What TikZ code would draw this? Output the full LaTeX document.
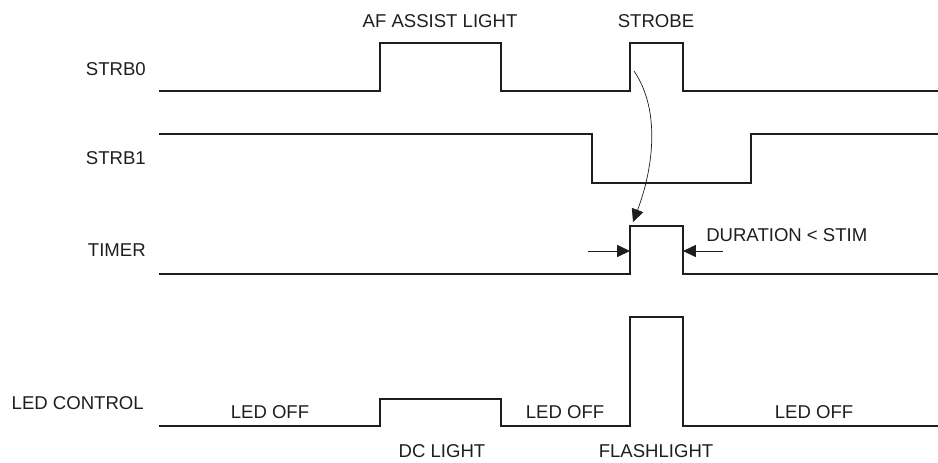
\documentclass[tikz,border=0pt]{standalone}
\usepackage{fontspec}
\setmainfont{Liberation Sans}
\usepackage{tikz}
\usetikzlibrary{arrows.meta, positioning, calc}
\definecolor{mydark}{RGB}{30,30,30}
\tikzset{
  signal/.style={line width=1.4pt, color=mydark, line join=miter},
  siglabel/.style={font=\fontsize{13.2}{15}\selectfont, inner sep=0pt, text=mydark},
  arrow/.style={-{Triangle[length=0.32cm, width=0.3cm]}, line width=0.6pt, color=mydark},
  curvearrow/.style={-{Triangle[length=0.32cm, width=0.3cm]}, line width=0.5pt, color=mydark}
}

\begin{document}
\begin{tikzpicture}[x=0.025cm, y=-0.025cm]
  \useasboundingbox (0,0) rectangle (938,462);

  % Signal names
  \node[siglabel, anchor=east] (nstrb0) at (146,69) {STRB0};
  \node[siglabel, anchor=east] (nstrb1) at (146,158) {STRB1};
  \node[siglabel, anchor=east] (ntimer) at (146,250) {TIMER};
  \node[siglabel, anchor=east] (nled) at (144,403) {LED CONTROL};

  % Waveforms
  \draw[signal] (159,91) -- (380,91) -- (380,43) -- (501,43) -- (501,91)
    -- (630,91) -- (630,43) -- (683,43) -- (683,91) -- (938,91);
  \draw[signal] (159,134) -- (592,134) -- (592,183) -- (751,183) -- (751,134) -- (938,134);
  \draw[signal] (159,274) -- (630,274) -- (630,226) -- (683,226) -- (683,274) -- (938,274);
  \draw[signal] (159,426) -- (380,426) -- (380,399) -- (501,399) -- (501,426)
    -- (630,426) -- (630,317) -- (683,317) -- (683,426) -- (938,426);

  % Pulse labels
  \node[siglabel] (naf) at (440,21) {AF ASSIST LIGHT};
  \node[siglabel] (nstrobe) at (656,21) {STROBE};
  \node[siglabel, anchor=west] (ndur) at (706,235) {DURATION < STIM};
  \node[siglabel] (noff1) at (270,412) {LED OFF};
  \node[siglabel] (noff2) at (565,412) {LED OFF};
  \node[siglabel] (noff3) at (814,412) {LED OFF};
  \node[siglabel] (ndc) at (442,451) {DC LIGHT};
  \node[siglabel] (nflash) at (656,451) {FLASHLIGHT};

  % Strobe triggers timer
  \coordinate (strobe) at (634,71);
  \coordinate (timertop) at (633,222);
  \draw[curvearrow] (strobe) .. controls (662,112) and (652,172) .. (timertop);

  % Duration markers
  \coordinate (durleft) at (588,251);
  \coordinate (timerrise) at (630,251);
  \coordinate (durright) at (723,251);
  \coordinate (timerfall) at (683,251);
  \draw[arrow] (durleft) -- (timerrise);
  \draw[arrow] (durright) -- (timerfall);
\end{tikzpicture}
\end{document}
